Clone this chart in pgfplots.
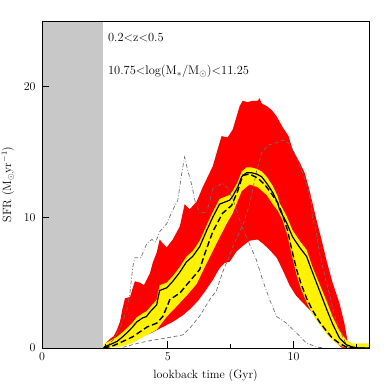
\documentclass[border=0pt]{standalone}
\usepackage{pgfplots}
\pgfplotsset{compat=1.18}
\definecolor{shade}{RGB}{200,200,200}
\definecolor{lgray}{RGB}{110,110,110}
\begin{document}
\begin{tikzpicture}
\path[use as bounding box] (-42bp,-42bp) rectangle (348bp,348bp);
\begin{axis}[
  at={(0,0)}, anchor=south west,
  width=327bp, height=327bp, scale only axis,
  xmin=0, xmax=13, ymin=0, ymax=25,
  xtick={0,5,10}, minor xtick={2.5,7.5,12.5},
  ytick={0,10,20},
  tick pos=left, tick align=inside,
  major tick length=7bp, minor tick length=3.5bp,
  every tick/.style={black, line width=0.6pt},
  axis line style={black, line width=0.6pt},
  axis on top,
  tick label style={font=\fontsize{12}{14}\selectfont},
  label style={font=\fontsize{12}{14}\selectfont},
  xlabel={lookback time (Gyr)},
  ylabel={SFR (M$_\odot$yr$^{-1}$)},
  xlabel style={at={(axis description cs:0.5,-0.0856)}, anchor=center},
  ylabel style={at={(axis description cs:-0.104,0.5)}, anchor=center},
  xticklabel style={yshift=-1bp},
  yticklabel style={xshift=-3bp},
]
% observational limit region
\addplot[fill=shade, draw=none] coordinates {(0,0) (2.42,0) (2.42,25) (0,25)} -- cycle;
% outer (red) band
\addplot[fill=red, draw=none] coordinates {
(2.42,0) (2.55,0.4) (2.7,0.7) (2.85,0.9) (2.98,1.4) (3.1,2.0) (3.2,3.0) (3.3,3.8) (3.5,3.9)
(3.69,5.1) (3.89,5.0) (4.05,4.8) (4.29,5.7) (4.4,6.5) (4.56,7.3) (4.68,8.3) (4.8,8.0) (4.96,7.7)
(5.2,8.3) (5.48,9.3) (5.67,11.0) (5.87,10.6) (6.15,11.2) (6.39,12.3) (6.79,13.9) (7.0,15.3)
(7.14,16.2) (7.38,16.1) (7.58,16.7) (7.86,18.5) (7.98,18.9) (8.17,18.8) (8.37,18.9) (8.57,18.9)
(8.65,19.1) (8.73,18.7) (8.93,18.5) (9.13,18.2) (9.33,17.7) (9.56,16.9) (9.8,16.2) (9.96,15.2)
(10.24,14.2) (10.44,13.4) (10.63,12.1) (10.91,9.8) (11.11,8.3) (11.31,6.7) (11.55,5.0) (11.83,3.4)
(12.02,1.9) (12.14,0.6) (12.18,0)
(12.0,0) (11.9,0.05) (11.7,0.4) (11.45,0.8) (11.2,1.4) (10.95,2.1) (10.7,2.8) (10.4,3.4) (10.1,4.0)
(9.84,4.8) (9.56,6.0) (9.33,6.9) (9.05,7.5) (8.77,8.0) (8.57,8.3) (8.25,8.2) (7.98,7.8) (7.74,7.4)
(7.46,6.6) (7.26,6.5) (7.06,6.1) (6.79,5.2) (6.47,4.3) (6.2,3.6) (5.9,3.0) (5.6,2.5) (5.2,2.0)
(4.8,1.6) (4.4,1.2) (4.0,0.9) (3.6,0.65) (3.2,0.4) (2.82,0.1) (2.42,0)
} -- cycle;
% inner (yellow) band
\addplot[fill=yellow, draw=none] coordinates {
(2.42,0) (2.45,0.3) (2.75,0.6) (2.98,0.85) (3.2,1.2) (3.37,1.5) (3.6,1.95) (3.77,2.35) (4.0,2.65)
(4.15,2.8) (4.29,3.1) (4.56,3.7) (4.62,4.3) (4.68,4.8) (4.96,5.0) (5.2,5.5) (5.48,6.2) (5.75,7.0)
(5.99,7.4) (6.27,8.2) (6.55,9.4) (6.79,10.4) (7.06,11.4) (7.46,11.7) (7.58,12.0) (7.78,12.7)
(7.94,13.5) (8.13,13.8) (8.33,13.8) (8.53,13.7) (8.73,13.5) (8.93,13.1) (9.17,12.4) (9.37,11.6)
(9.44,11.1) (9.72,10.1) (9.96,9.0) (10.24,8.2) (10.52,7.5) (10.75,6.2) (11.03,4.9) (11.31,3.6)
(11.55,2.4) (11.83,1.3) (12.1,0.6) (12.34,0.35) (13,0.35)
(13,0) (12.1,0) (11.83,0.2) (11.55,0.6) (11.31,1.1) (11.03,1.8) (10.75,2.6) (10.52,3.5) (10.3,4.5)
(10.12,5.6) (9.92,7.2) (9.76,8.6) (9.56,9.8) (9.37,10.5) (9.17,11.0) (8.93,11.7) (8.57,12.3)
(8.25,12.5) (7.94,12.0) (7.58,10.3) (7.34,9.5) (6.94,8.0) (6.5,6.3) (6.15,4.9) (5.75,4.0) (5.36,3.2)
(4.96,2.4) (4.56,1.4) (4.17,1.0) (3.61,0.4) (3.1,0.08) (2.42,0)
} -- cycle;
% gray dashed curve
\addplot[color=lgray, line width=0.7pt, dash pattern=on 4bp off 2.5bp] coordinates {
(3.21,0.05) (3.5,0.2) (3.89,0.4) (4.4,0.6) (4.96,0.77) (5.6,1.0) (5.87,1.5) (6.27,2.45) (6.67,3.7)
(6.94,4.4) (7.18,5.8) (7.38,6.7) (7.58,7.7) (7.86,8.9) (8.06,9.8) (8.25,11.0) (8.4,12.3) (8.53,13.5)
(8.73,14.9) (8.97,15.5) (9.33,15.7) (9.6,15.9) (9.84,15.6) (9.96,15.2) (10.16,14.4) (10.36,13.4)
(10.56,12.3) (10.71,11.1) (10.75,10.0) (10.91,8.8) (11.03,7.3) (11.23,5.6) (11.43,4.1) (11.63,2.5)
(11.83,1.4) (12.02,0.6) (12.14,0.08) (12.3,0)
};
% gray dash-dotted curve
\addplot[color=lgray, line width=0.7pt, dash pattern=on 4bp off 2bp on 0.8bp off 2bp] coordinates {
(2.5,0) (2.82,0.6) (3.1,1.5) (3.37,2.9) (3.49,4.1) (3.61,6.2) (3.69,6.9) (3.93,6.9) (4.17,8.0)
(4.37,8.3) (4.52,8.1) (4.68,8.9) (4.96,9.5) (5.16,10.4) (5.4,11.3) (5.56,13.4) (5.67,14.6)
(5.79,13.6) (5.95,12.5) (6.11,11.0) (6.3,10.3) (6.55,10.4) (6.8,12.2) (7.18,12.6) (7.4,12.2)
(7.66,11.0) (7.94,9.3) (8.17,8.3) (8.53,6.7) (8.77,5.2) (9.05,3.7) (9.33,2.4) (9.72,1.9)
(10.12,1.15) (10.5,0.4) (10.9,0.08) (11.2,0)
};
% black dashed curve
\addplot[black, line width=1.4pt, dash pattern=on 6bp off 3bp] coordinates {
(2.45,0) (2.8,0.15) (3.1,0.4) (3.6,0.85) (4.17,1.6) (4.56,1.9) (4.8,2.4) (5.0,3.3) (5.08,3.7)
(5.48,4.2) (5.87,5.1) (6.27,6.0) (6.47,7.2) (6.79,8.9) (7.18,10.3) (7.54,10.9) (7.78,12.0)
(7.98,13.2) (8.25,13.3) (8.57,13.0) (8.85,12.5) (9.05,12.0) (9.37,11.1) (9.56,10.2) (9.76,9.0)
(9.92,7.6) (10.12,6.0) (10.3,4.9) (10.52,3.8) (10.75,2.9) (11.03,2.0) (11.31,1.3) (11.55,0.75)
(11.83,0.35) (12.1,0.07) (12.5,0) (13,0)
};
% black solid curve
\addplot[black, line width=1.2pt] coordinates {
(2.45,0) (2.5,0.1) (2.75,0.3) (2.98,0.5) (3.2,0.85) (3.37,1.15) (3.6,1.6) (3.77,2.0) (4.0,2.3)
(4.15,2.4) (4.29,2.75) (4.56,3.3) (4.62,3.9) (4.68,4.4) (4.96,4.6) (5.2,5.1) (5.48,5.8) (5.75,6.6)
(5.99,7.0) (6.27,7.75) (6.55,9.0) (6.79,10.0) (7.06,11.0) (7.46,11.3) (7.58,11.6) (7.78,12.3)
(7.94,13.1) (8.13,13.4) (8.33,13.4) (8.53,13.3) (8.73,13.1) (8.93,12.6) (9.17,11.9) (9.37,11.1)
(9.44,10.6) (9.72,9.6) (9.96,8.5) (10.24,7.7) (10.52,7.0) (10.75,5.8) (11.03,4.4) (11.31,3.0)
(11.55,1.85) (11.83,0.75) (12.1,0.25) (12.34,0.08) (12.6,0) (13,0)
};
\node[anchor=base west, font=\fontsize{12.5}{14}\selectfont, inner sep=0pt] at (axis cs:2.62,23.45) {0.2<z<0.5};
\node[anchor=base west, font=\fontsize{12.5}{14}\selectfont, inner sep=0pt] at (axis cs:2.62,20.9) {10.75<log(M$_*$/M$_\odot$)<11.25};
\end{axis}
\end{tikzpicture}
\end{document}
